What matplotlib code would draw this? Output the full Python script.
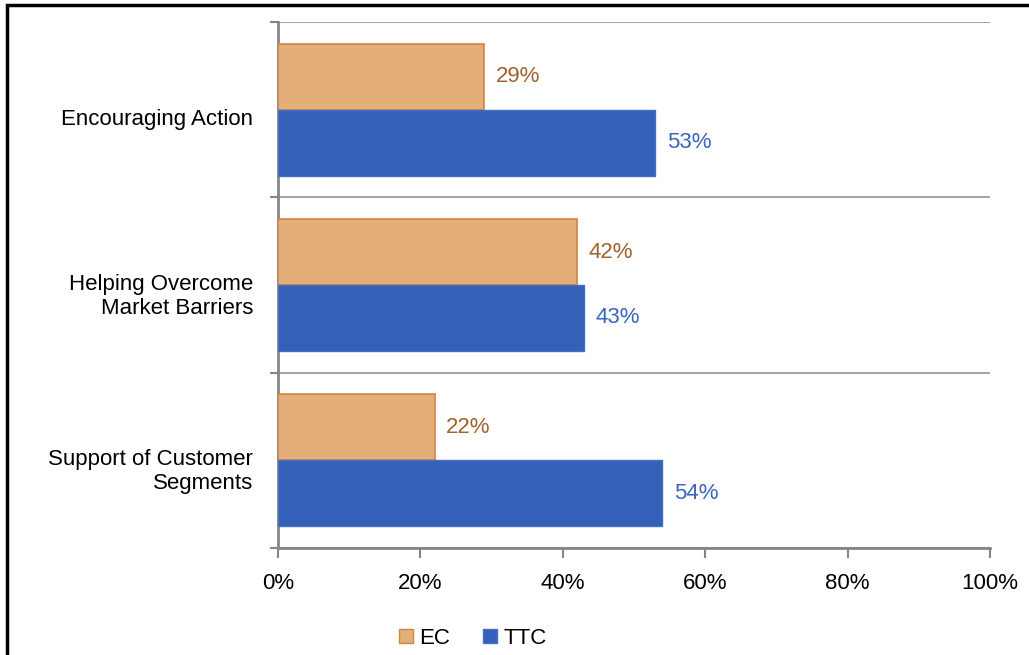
import numpy as np
import matplotlib.pyplot as plt
from matplotlib.patches import Rectangle, Patch
from matplotlib.ticker import FixedLocator, PercentFormatter
from matplotlib.transforms import ScaledTranslation

plt.rcParams['font.family'] = ['Liberation Sans', 'DejaVu Sans']

categories = ["Encouraging Action", "Helping Overcome\nMarket Barriers", "Support of Customer\nSegments"]
ec = [29, 42, 22]
ttc = [53, 43, 54]

ec_face, ec_edge, ec_text = "#E4AE79", "#D2843F", "#A0622A"
ttc_face, ttc_edge, ttc_text = "#3461B7", "#4470C2", "#3A63C2"
grid_col = "#A6A6A6"
axis_col = "#868686"
fs = 16

fig = plt.figure(figsize=(10.29, 6.55), dpi=100)
ax = fig.add_axes([278 / 1029, 1 - 548 / 655, (990 - 278) / 1029, (548 - 22) / 655])

y = np.arange(len(categories))
h = 0.376
ax.barh(y - h / 2, ec, height=h, color=ec_face, edgecolor=ec_edge, linewidth=1.2, zorder=3)
ax.barh(y + h / 2, ttc, height=h, color=ttc_face, edgecolor=ttc_edge, linewidth=1.0, zorder=3)

for yi, v in zip(y, ec):
    ax.text(v + 1.6, yi - h / 2, f"{v}%", va="center", ha="left", fontsize=fs, color=ec_text)
for yi, v in zip(y, ttc):
    ax.text(v + 1.6, yi + h / 2, f"{v}%", va="center", ha="left", fontsize=fs, color=ttc_text)

ax.set_xlim(0, 100)
ax.set_ylim(len(categories) - 0.5, -0.5)
ax.xaxis.set_major_locator(FixedLocator([0, 20, 40, 60, 80, 100]))
ax.xaxis.set_major_formatter(PercentFormatter(decimals=0))
ax.set_yticks(y)
ax.set_yticklabels(categories)
ax.yaxis.set_minor_locator(FixedLocator(np.arange(-0.5, len(categories), 1.0)))

ax.tick_params(axis="y", which="major", length=0, pad=18, labelsize=fs)
ax.tick_params(axis="y", which="minor", length=6, width=1.5, color=axis_col)
ax.tick_params(axis="x", length=7, width=1.5, color=axis_col, pad=11, labelsize=fs)
ax.grid(axis="y", which="minor", color=grid_col, linewidth=1.5, zorder=0)

# category labels sit a little below the band centres
shift = ScaledTranslation(0, -7 / 100, fig.dpi_scale_trans)
for lab in ax.get_yticklabels():
    lab.set_transform(lab.get_transform() + shift)

for s in ("top", "right"):
    ax.spines[s].set_visible(False)
for s in ("left", "bottom"):
    ax.spines[s].set_color(axis_col)
    ax.spines[s].set_linewidth(2)

handles = [Patch(facecolor=ec_face, edgecolor=ec_edge, label="EC"),
           Patch(facecolor=ttc_face, edgecolor=ttc_edge, label="TTC")]
fig.legend(handles=handles, loc="center", bbox_to_anchor=(473 / 1029, 17 / 655), ncol=2,
           frameon=False, fontsize=fs, handlelength=0.6, handleheight=0.6,
           handletextpad=0.3, columnspacing=1.5)

# outer frame around the chart area
fig.patches.append(Rectangle((7 / 1029, -0.2), 1.2, 1.2 - 5 / 655, transform=fig.transFigure,
                             fill=False, edgecolor="black", linewidth=2.5, clip_on=False))

fig.savefig("out.png", dpi=100)
